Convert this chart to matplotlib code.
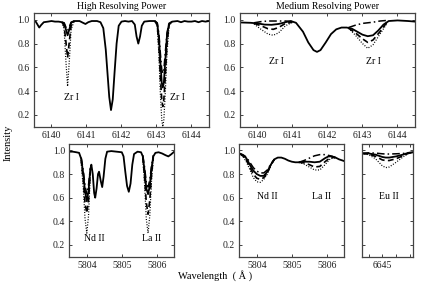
import matplotlib
matplotlib.use("Agg")
import matplotlib.pyplot as plt
from matplotlib.ticker import FormatStrFormatter

plt.rcParams['font.family'] = ['Liberation Serif', 'DejaVu Serif']

# ---------------- data ----------------
# High resolving power, Zr region (6139.5-6144.5)
hz_wl = [6139.50, 6139.55, 6139.60, 6139.65, 6139.70, 6139.78, 6139.90, 6140.00, 6140.10,
         6140.20, 6140.30, 6140.36, 6140.41, 6140.46, 6140.51, 6140.56, 6140.65, 6140.80,
         6140.90, 6140.97, 6141.05, 6141.15, 6141.30, 6141.40, 6141.48, 6141.55, 6141.60,
         6141.65, 6141.70, 6141.75, 6141.80, 6141.86, 6141.92, 6142.00, 6142.10, 6142.20,
         6142.30, 6142.38, 6142.43, 6142.48, 6142.53, 6142.58, 6142.65, 6142.80, 6142.95,
         6143.02, 6143.07, 6143.11, 6143.15, 6143.18, 6143.21, 6143.25, 6143.30, 6143.36,
         6143.45, 6143.60, 6143.70, 6143.80, 6143.90, 6144.00, 6144.10, 6144.20, 6144.30,
         6144.40, 6144.50]
hz_solid = [0.99, 0.985, 0.96, 0.935, 0.955, 0.98, 0.985, 0.99, 0.985,
            0.985, 0.98, 0.97, 0.92, 0.87, 0.92, 0.975, 0.99, 0.99,
            0.975, 0.965, 0.98, 0.99, 0.99, 0.98, 0.93, 0.75, 0.55,
            0.35, 0.24, 0.33, 0.55, 0.80, 0.95, 0.985, 0.99, 0.985,
            0.99, 0.96, 0.86, 0.80, 0.86, 0.95, 0.985, 0.99, 0.99,
            0.97, 0.85, 0.65, 0.47, 0.43, 0.47, 0.65, 0.87, 0.97,
            0.985, 0.99, 0.98, 0.99, 0.985, 0.985, 0.99, 0.98, 0.99,
            0.985, 0.99]
hz1_wl = [6140.30, 6140.36, 6140.41, 6140.46, 6140.51, 6140.56, 6140.65]
hz1_dashdot = [0.98, 0.975, 0.94, 0.91, 0.94, 0.98, 0.99]
hz1_dashed = [0.98, 0.95, 0.82, 0.68, 0.82, 0.95, 0.99]
hz1_dotted = [0.98, 0.92, 0.66, 0.44, 0.66, 0.92, 0.99]
hz2_wl = [6142.95, 6143.02, 6143.07, 6143.11, 6143.15, 6143.18, 6143.21, 6143.25,
          6143.30, 6143.36, 6143.45]
hz2_dashdot = [0.99, 0.975, 0.88, 0.72, 0.58, 0.55, 0.58, 0.72, 0.89, 0.975, 0.985]
hz2_dashed = [0.99, 0.96, 0.78, 0.52, 0.33, 0.27, 0.33, 0.52, 0.80, 0.96, 0.985]
hz2_dotted = [0.99, 0.95, 0.70, 0.38, 0.16, 0.10, 0.16, 0.38, 0.72, 0.95, 0.985]

# Medium resolving power, Zr region
mz_wl = [6139.50, 6139.80, 6140.00, 6140.20, 6140.40, 6140.60, 6140.80, 6140.95, 6141.10,
         6141.30, 6141.45, 6141.60, 6141.70, 6141.80, 6141.95, 6142.10, 6142.25, 6142.40,
         6142.55, 6142.70, 6142.85, 6143.00, 6143.15, 6143.30, 6143.45, 6143.60, 6143.75,
         6144.00, 6144.30, 6144.50]
mz_solid = [0.978, 0.975, 0.97, 0.96, 0.958, 0.965, 0.98, 0.99, 0.975,
            0.90, 0.81, 0.745, 0.73, 0.745, 0.81, 0.88, 0.92, 0.935,
            0.935, 0.925, 0.90, 0.875, 0.862, 0.87, 0.91, 0.96, 0.99,
            0.995, 0.99, 0.985]
mz1_wl = [6139.9, 6140.1, 6140.3, 6140.45, 6140.6, 6140.8, 6141.0]
mz1_dashdot = [0.975, 0.985, 0.99, 0.99, 0.99, 0.99, 0.985]
mz1_dashed = [0.97, 0.95, 0.925, 0.92, 0.935, 0.97, 0.98]
mz1_dotted = [0.965, 0.92, 0.88, 0.87, 0.89, 0.95, 0.98]
mz2_wl = [6142.6, 6142.8, 6143.0, 6143.15, 6143.3, 6143.5, 6143.7]
mz2_dashdot = [0.935, 0.955, 0.97, 0.975, 0.98, 0.99, 0.995]
mz2_dashed = [0.93, 0.89, 0.84, 0.81, 0.83, 0.90, 0.98]
mz2_dotted = [0.93, 0.87, 0.80, 0.76, 0.79, 0.88, 0.97]

# High resolving power, Nd/La region
hn_wl = [5803.50, 5803.60, 5803.70, 5803.78, 5803.84, 5803.90, 5803.95, 5804.00, 5804.05,
         5804.10, 5804.13, 5804.17, 5804.21, 5804.24, 5804.28, 5804.32, 5804.35, 5804.40,
         5804.44, 5804.48, 5804.53, 5804.58, 5804.70, 5804.85, 5805.00, 5805.05, 5805.10,
         5805.15, 5805.20, 5805.25, 5805.30, 5805.35, 5805.45, 5805.55, 5805.60, 5805.65,
         5805.70, 5805.75, 5805.80, 5805.85, 5805.90, 5805.96, 5806.05, 5806.15, 5806.25,
         5806.33, 5806.40, 5806.50]
hn_solid = [0.99, 0.99, 0.985, 0.98, 0.93, 0.80, 0.65, 0.57, 0.66,
            0.84, 0.88, 0.80, 0.64, 0.60, 0.68, 0.80, 0.82, 0.74,
            0.69, 0.78, 0.93, 0.99, 0.995, 0.99, 0.985, 0.95, 0.82,
            0.70, 0.65, 0.72, 0.88, 0.97, 0.99, 0.985, 0.95, 0.83,
            0.68, 0.63, 0.70, 0.85, 0.95, 0.98, 0.985, 0.975, 0.96,
            0.95, 0.965, 0.99]
hn1_wl = [5803.84, 5803.90, 5803.95, 5804.00, 5804.05, 5804.10]
hn1_dashdot = [0.94, 0.83, 0.70, 0.63, 0.71, 0.85]
hn1_dashed = [0.92, 0.75, 0.55, 0.47, 0.58, 0.82]
hn1_dotted = [0.90, 0.68, 0.42, 0.30, 0.45, 0.80]
hn2_wl = [5805.60, 5805.65, 5805.70, 5805.75, 5805.80, 5805.85, 5805.90]
hn2_dashdot = [0.96, 0.86, 0.73, 0.69, 0.75, 0.87, 0.96]
hn2_dashed = [0.94, 0.78, 0.56, 0.46, 0.58, 0.80, 0.94]
hn2_dotted = [0.93, 0.72, 0.42, 0.30, 0.45, 0.75, 0.93]

# Medium resolving power, Nd/La region
mn_wl = [5803.50, 5803.60, 5803.70, 5803.80, 5803.90, 5804.00, 5804.10, 5804.20, 5804.30,
         5804.40, 5804.50, 5804.60, 5804.70, 5804.80, 5804.90, 5805.00, 5805.10, 5805.20,
         5805.35, 5805.50, 5805.65, 5805.80, 5805.95, 5806.05, 5806.15, 5806.25, 5806.35,
         5806.50]
mn_solid = [0.975, 0.96, 0.935, 0.88, 0.83, 0.80, 0.785, 0.785, 0.82,
            0.88, 0.925, 0.94, 0.94, 0.93, 0.915, 0.905, 0.90, 0.90,
            0.905, 0.905, 0.90, 0.905, 0.935, 0.95, 0.95, 0.94, 0.925,
            0.91]
mn1_wl = [5803.5, 5803.6, 5803.7, 5803.8, 5803.9, 5804.0, 5804.1, 5804.2, 5804.3, 5804.4, 5804.5]
mn1_dashdot = [0.975, 0.965, 0.945, 0.90, 0.855, 0.825, 0.81, 0.81, 0.835, 0.885, 0.925]
mn1_dashed = [0.975, 0.955, 0.92, 0.86, 0.80, 0.765, 0.755, 0.77, 0.81, 0.875, 0.925]
mn1_dotted = [0.975, 0.95, 0.905, 0.84, 0.77, 0.735, 0.73, 0.755, 0.80, 0.87, 0.925]
mn2_wl = [5805.2, 5805.35, 5805.5, 5805.65, 5805.8, 5805.95, 5806.1, 5806.25]
mn2_dashdot = [0.90, 0.915, 0.935, 0.955, 0.965, 0.965, 0.955, 0.94]
mn2_dashed = [0.90, 0.895, 0.88, 0.86, 0.865, 0.905, 0.94, 0.94]
mn2_dotted = [0.90, 0.885, 0.86, 0.835, 0.835, 0.88, 0.93, 0.94]

# Medium resolving power, Eu region
me_wl = [6644.4, 6644.6, 6644.8, 6645.0, 6645.1, 6645.2, 6645.4, 6645.6, 6645.75, 6645.9]
me_solid = [0.975, 0.975, 0.965, 0.945, 0.94, 0.94, 0.95, 0.965, 0.98, 0.985]
me_dashdot = [0.975, 0.98, 0.978, 0.972, 0.97, 0.97, 0.972, 0.975, 0.98, 0.985]
me_dashed = [0.975, 0.97, 0.95, 0.92, 0.915, 0.915, 0.93, 0.955, 0.975, 0.985]
me_dotted = [0.975, 0.965, 0.93, 0.87, 0.855, 0.86, 0.90, 0.945, 0.975, 0.985]

y_ticks = [0.2, 0.4, 0.6, 0.8, 1.0]
zr_ticks = [6140, 6141, 6142, 6143, 6144]
nd_ticks = [5804, 5805, 5806]
eu_ticks = [6644.6, 6645.0, 6645.4, 6645.8]
eu_labels = ["", "6645", "", ""]

# ---------------- drawing ----------------
W, H = 436, 289
fig = plt.figure(figsize=(W / 100, H / 100), dpi=100)

def box(x0, x1, ytop, ybot):
    return [x0 / W, 1 - ybot / H, (x1 - x0) / W, (ybot - ytop) / H]

axA = fig.add_axes(box(34, 209, 13.3, 126.7))
axB = fig.add_axes(box(240, 415, 13.3, 126.7))
axC = fig.add_axes(box(69.3, 174.3, 144, 256.7))
axD = fig.add_axes(box(239.3, 344.3, 144, 256.7))
axE = fig.add_axes(box(361.7, 413.3, 144, 256.7))

LW = 1.3
sty_dd = dict(color='black', lw=1.1, ls=(0, (5, 2, 1, 2)))
sty_da = dict(color='black', lw=1.2, ls=(0, (3.5, 2)))
sty_do = dict(color='black', lw=0.9, ls=(0, (0.8, 1.3)))
sty_so = dict(color='black', lw=LW, ls='-')

def variants(ax, wl, dd, da, do):
    ax.plot(wl, do, **sty_do)
    ax.plot(wl, da, **sty_da)
    ax.plot(wl, dd, **sty_dd)

variants(axA, hz1_wl, hz1_dashdot, hz1_dashed, hz1_dotted)
variants(axA, hz2_wl, hz2_dashdot, hz2_dashed, hz2_dotted)
axA.plot(hz_wl, hz_solid, **sty_so)

variants(axB, mz1_wl, mz1_dashdot, mz1_dashed, mz1_dotted)
variants(axB, mz2_wl, mz2_dashdot, mz2_dashed, mz2_dotted)
axB.plot(mz_wl, mz_solid, **sty_so)

variants(axC, hn1_wl, hn1_dashdot, hn1_dashed, hn1_dotted)
variants(axC, hn2_wl, hn2_dashdot, hn2_dashed, hn2_dotted)
axC.plot(hn_wl, hn_solid, **sty_so)

variants(axD, mn1_wl, mn1_dashdot, mn1_dashed, mn1_dotted)
variants(axD, mn2_wl, mn2_dashdot, mn2_dashed, mn2_dotted)
axD.plot(mn_wl, mn_solid, **sty_so)

variants(axE, me_wl, me_dashdot, me_dashed, me_dotted)
axE.plot(me_wl, me_solid, **sty_so)

FS = 7
for ax in (axA, axB, axC, axD, axE):
    ax.set_ylim(0.1, 1.055)
    ax.set_yticks(y_ticks)
    ax.yaxis.set_major_formatter(FormatStrFormatter('%.1f'))
    ax.tick_params(direction='in', length=2, width=0.6, top=True, right=True,
                   labelsize=FS, pad=3, colors='#222222')
    for s in ax.spines.values():
        s.set_linewidth(0.9)
        s.set_color('#444444')

axA.set_xlim(6139.5, 6144.5)
axB.set_xlim(6139.5, 6144.5)
axA.set_xticks(zr_ticks)
axB.set_xticks(zr_ticks)
axC.set_xlim(5803.5, 5806.5)
axD.set_xlim(5803.5, 5806.5)
axC.set_xticks(nd_ticks)
axD.set_xticks(nd_ticks)
axE.set_xlim(6644.4, 6645.9)
axE.set_xticks(eu_ticks)
axE.set_xticklabels(eu_labels)
axE.tick_params(labelleft=False)

axA.set_title("High Resolving Power", fontsize=FS, pad=3)
axB.set_title("Medium Resolving Power", fontsize=FS, pad=3)

lab = dict(fontsize=FS, ha='center', va='center')
axA.text(6140.57, 0.345, "Zr I", **lab)
axA.text(6143.6, 0.345, "Zr I", **lab)
axB.text(6140.55, 0.65, "Zr I", **lab)
axB.text(6143.3, 0.65, "Zr I", **lab)
axC.text(5804.22, 0.25, "Nd II", **lab)
axC.text(5805.86, 0.25, "La II", **lab)
axD.text(5804.29, 0.61, "Nd II", **lab)
axD.text(5805.86, 0.61, "La II", **lab)
axE.text(6645.2, 0.61, "Eu II", **lab)

fig.text(8 / W, 1 - 143 / H, "Intensity", rotation=90, ha='center', va='center', fontsize=7.5)
fig.text(215 / W, 1 - 276 / H, "Wavelength  ( Å )", ha='center', va='center', fontsize=7.5)

fig.savefig("out.png", dpi=100)
